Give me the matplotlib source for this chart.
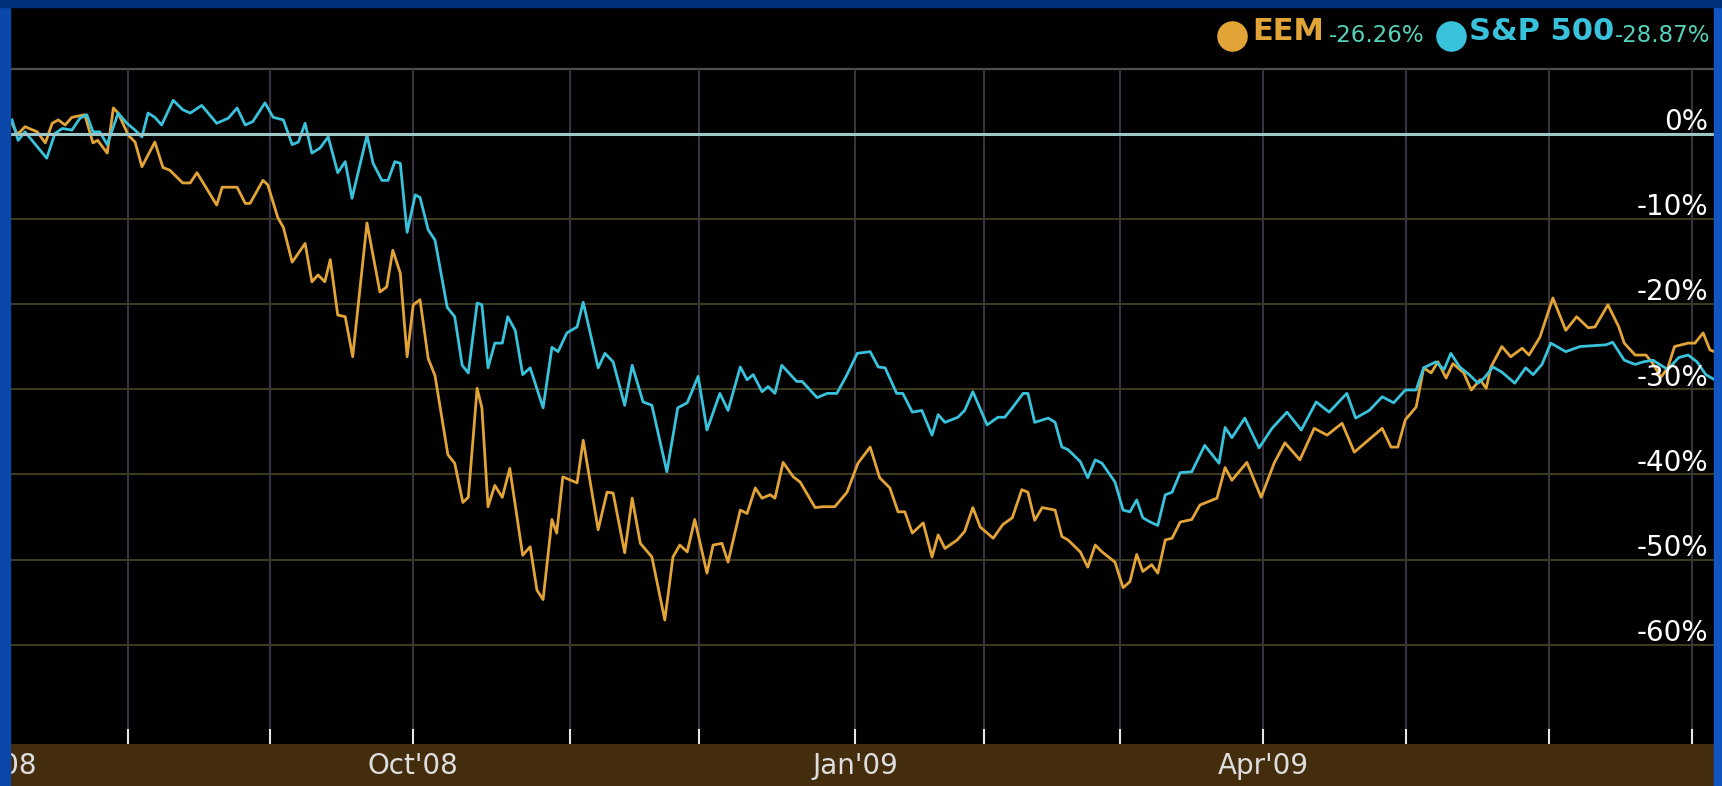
import matplotlib
matplotlib.use("Agg")
import matplotlib.pyplot as plt
import matplotlib.transforms as mtransforms
from matplotlib.lines import Line2D
from matplotlib.patches import Rectangle

# x = trading-day index (0 = first session on the chart, early Jul 2008), y = % change
spx_points = [
    (0, 1.6), (0.9, -0.8), (1.9, 0.2), (5.1, -2.9), (6.3, 0.0), (7.4, 0.6), (8.8, 0.4),
    (10.0, 1.8), (11.0, 2.2), (11.9, 0.2), (12.9, 0.2), (14.0, -1.3), (15.6, 2.4),
    (16.9, 1.2), (18.1, 0.4), (19.1, -0.4), (20.0, 2.4), (21.0, 1.9), (22.0, 1.0),
    (23.7, 3.9), (25.1, 2.8), (26.2, 2.4), (27.9, 3.3), (30.1, 1.2), (31.8, 1.8),
    (33.1, 3.0), (34.3, 1.0), (35.4, 1.4), (37.2, 3.6), (38.4, 1.9), (39.9, 1.6),
    (41.2, -1.3), (42.1, -1.0), (43.1, 1.2), (44.1, -2.3), (45.3, -1.7), (46.5, -0.4),
    (47.9, -4.6), (49.0, -3.3), (50.0, -7.6), (52.2, -0.2), (53.1, -3.5), (54.4, -5.5),
    (55.3, -5.5), (56.3, -3.3), (57.1, -3.5), (58.1, -11.6), (59.3, -7.2), (60.0, -7.5),
    (61.2, -11.3), (62.2, -12.5), (64.0, -20.4), (65.1, -21.5), (66.2, -27.2),
    (67.1, -28.1), (68.4, -19.9), (69.1, -20.1), (70.0, -27.5), (71.0, -24.6),
    (72.1, -24.6), (72.9, -21.5), (74.0, -23.1), (75.1, -28.3), (76.2, -27.5),
    (78.1, -32.2), (79.4, -25.1), (80.3, -25.6), (81.6, -23.4), (83.1, -22.7),
    (84.0, -19.8), (86.2, -27.5), (87.2, -25.8), (88.4, -26.8), (90.1, -31.9),
    (91.2, -27.2), (92.8, -31.5), (94.1, -31.9), (96.3, -39.7), (97.9, -32.2),
    (99.3, -31.6), (100.9, -28.5), (102.2, -34.8), (104.1, -30.5), (105.3, -32.5),
    (107.1, -27.4), (108.1, -28.9), (109.0, -28.3), (110.3, -30.3), (111.2, -29.7),
    (112.2, -30.5), (113.2, -27.2), (115.4, -29.1), (116.2, -29.1), (118.4, -31.0),
    (119.9, -30.5), (121.3, -30.5), (122.8, -28.3), (124.3, -25.8), (126.2, -25.6),
    (127.4, -27.4), (128.4, -27.5), (130.1, -30.5), (131.0, -30.5), (132.4, -32.7),
    (133.8, -32.5), (135.3, -35.4), (136.2, -33.0), (137.2, -33.9), (139.1, -33.3),
    (140.1, -32.5), (141.3, -30.3), (143.4, -34.2), (145.0, -33.3), (146.0, -33.3),
    (147.1, -32.2), (148.7, -30.5), (149.4, -30.5), (150.4, -33.9), (152.4, -33.4),
    (153.4, -33.9), (154.4, -36.8), (155.3, -37.1), (157.1, -38.5), (158.2, -40.4),
    (159.3, -38.3), (160.3, -38.7), (162.2, -40.9), (163.4, -44.2), (164.4, -44.4),
    (165.4, -43.0), (166.3, -45.1), (167.4, -45.6), (168.5, -46.0), (169.6, -42.4),
    (170.6, -42.1), (171.8, -39.8), (173.5, -39.7), (175.4, -36.6), (177.5, -38.7),
    (178.4, -34.5), (179.4, -35.7), (181.3, -33.4), (183.4, -36.9), (185.3, -34.6),
    (187.5, -32.7), (189.6, -34.8), (191.8, -31.5), (193.7, -32.7), (196.3, -30.5),
    (197.6, -33.4), (199.6, -32.5), (201.5, -30.9), (203.2, -31.6), (204.9, -30.1),
    (206.5, -30.1), (207.6, -27.5), (209.4, -26.8), (210.6, -27.7), (211.6, -25.8),
    (212.9, -27.4), (214.3, -28.3), (215.6, -29.3), (216.5, -28.7), (217.8, -27.4),
    (219.1, -28.0), (221.0, -29.3), (222.6, -27.5), (223.7, -28.3), (225.0, -27.1),
    (226.3, -24.6), (228.5, -25.6), (230.6, -25.0), (234.4, -24.8), (235.4, -24.5),
    (237.1, -26.6), (238.7, -27.1), (239.9, -26.8), (241.3, -26.6), (243.5, -27.7),
    (245.1, -26.3), (246.5, -26.0), (247.8, -26.8), (249.1, -28.3), (250.4, -28.9),
]

eem_points = [
    (0, 1.2), (0.7, 0.0), (1.2, 0.2), (1.9, 0.8), (3.7, 0.2), (4.9, -1.1), (5.9, 1.2),
    (6.8, 1.6), (7.8, 1.0), (8.8, 1.9), (10.7, 2.2), (11.9, -1.1), (12.6, -0.8),
    (14.0, -2.3), (14.9, 3.0), (15.6, 2.4), (17.1, -0.2), (18.1, -1.0), (19.1, -3.9),
    (21.0, -1.0), (22.2, -4.0), (23.2, -4.3), (25.1, -5.8), (26.2, -5.8), (27.2, -4.6),
    (30.1, -8.4), (30.9, -6.3), (33.1, -6.3), (34.3, -8.2), (35.0, -8.2), (36.9, -5.5),
    (37.6, -6.0), (39.1, -9.9), (39.9, -11.0), (41.2, -15.1), (43.1, -12.9),
    (44.1, -17.4), (45.0, -16.6), (46.0, -17.4), (46.8, -14.8), (47.9, -21.3),
    (49.0, -21.5), (50.1, -26.2), (52.2, -10.5), (54.1, -18.6), (55.1, -18.0),
    (56.0, -13.7), (57.1, -16.4), (58.1, -26.2), (59.0, -20.1), (60.0, -19.5),
    (61.2, -26.4), (62.2, -28.4), (64.1, -37.7), (65.1, -38.7), (66.3, -43.3),
    (67.1, -42.7), (68.4, -29.9), (69.1, -32.2), (70.0, -43.8), (71.0, -41.3),
    (72.1, -42.7), (73.2, -39.3), (75.1, -49.5), (76.2, -48.5), (77.2, -53.6),
    (78.1, -54.7), (79.4, -45.3), (80.1, -46.9), (81.0, -40.3), (83.1, -41.0),
    (84.0, -36.0), (86.2, -46.5), (87.5, -42.1), (88.4, -42.2), (90.1, -49.2),
    (91.2, -42.8), (92.4, -48.1), (94.1, -49.7), (96.0, -57.1), (97.2, -49.7),
    (98.2, -48.3), (99.3, -49.1), (100.4, -45.3), (102.2, -51.6), (103.1, -48.3),
    (104.4, -48.1), (105.3, -50.3), (107.1, -44.2), (108.1, -44.6), (109.3, -41.6),
    (110.3, -42.8), (111.5, -42.4), (112.2, -42.8), (113.4, -38.6), (114.9, -40.3),
    (115.9, -40.9), (118.1, -43.9), (119.3, -43.8), (121.0, -43.8), (122.8, -42.1),
    (124.4, -38.7), (126.2, -36.8), (127.6, -40.4), (129.1, -41.6), (130.3, -44.4),
    (131.3, -44.4), (132.4, -46.9), (134.0, -45.7), (135.3, -49.7), (136.2, -47.1),
    (137.2, -48.7), (139.0, -47.7), (140.1, -46.7), (141.3, -43.9), (142.4, -46.2),
    (144.3, -47.5), (145.7, -45.9), (147.1, -45.1), (148.5, -41.8), (149.4, -42.1),
    (150.4, -45.4), (151.5, -43.9), (153.4, -44.2), (154.4, -47.3), (155.3, -47.7),
    (157.1, -49.1), (158.2, -50.9), (159.3, -48.3), (160.3, -49.1), (162.2, -50.3),
    (163.4, -53.3), (164.4, -52.6), (165.4, -49.4), (166.3, -51.4), (167.6, -50.6),
    (168.5, -51.6), (169.6, -47.7), (170.6, -47.5), (171.8, -45.6), (173.5, -45.3),
    (174.7, -43.6), (177.2, -42.8), (178.4, -39.2), (179.4, -40.7), (181.6, -38.6),
    (183.7, -42.7), (185.6, -38.7), (187.2, -36.3), (189.4, -38.3), (191.5, -34.6),
    (193.4, -35.4), (195.6, -34.0), (197.4, -37.4), (199.0, -36.3), (201.5, -34.6),
    (202.8, -36.8), (203.8, -36.8), (204.9, -33.6), (206.5, -32.1), (207.6, -27.5),
    (208.7, -28.1), (209.7, -26.8), (210.9, -28.7), (211.9, -27.0), (213.5, -28.1),
    (214.6, -30.1), (215.9, -28.9), (216.8, -29.9), (217.5, -27.4), (219.1, -25.0),
    (220.4, -26.2), (222.1, -25.2), (223.1, -26.0), (224.7, -23.9), (226.6, -19.3),
    (228.5, -23.1), (230.1, -21.5), (231.8, -22.8), (232.8, -22.7), (234.7, -20.1),
    (236.3, -22.7), (237.1, -24.6), (238.7, -26.0), (240.3, -26.0), (241.3, -27.0),
    (242.5, -28.6), (243.5, -27.5), (244.5, -25.0), (246.5, -24.6), (247.5, -24.6),
    (248.7, -23.4), (249.7, -25.4), (251.0, -25.8),
]

# first trading day of each month, Aug'08 .. Jul'09
month_day = [17, 38, 59, 82, 101, 124, 143, 163, 184, 205, 226, 247]
month_label = ["", "", "Oct'08", "", "", "Jan'09", "", "", "Apr'09", "", "", ""]
jul08_day = -2.0   # label of the month that starts before the first point

pct_levels = [0, -10, -20, -30, -40, -50, -60]
pct_labels = ["0%", "-10%", "-20%", "-30%", "-40%", "-50%", "-60%"]
top_level = 7.57

legend_names = ["EEM", "S&P 500"]
legend_changes = ["-26.26%", "-28.87%"]

EEM_COL = "#e2a436"
SPX_COL = "#38c2dc"
CHG_COL = "#55d2bb"
BORDER = "#0a47a8"
TICK_TXT = "#dedede"

W, H = 1722, 786
fig = plt.figure(figsize=(W / 100, H / 100), dpi=100, facecolor=BORDER)
ax = fig.add_axes([10 / W, 42 / H, 1704 / W, 737 / H])
ax.set_facecolor("black")
ax.set_xlim(-0.3, 250.3)
ax.set_ylim(-71.65, 14.85)
for s in ax.spines.values():
    s.set_visible(False)

# grid
ax.axhline(top_level, color="#4e4e4e", lw=1.6, zorder=1)
for lv in pct_levels[1:]:
    ax.axhline(lv, color="#3d3a1e", lw=1.5, zorder=1)
ax.vlines(month_day, -71.65, top_level, color="#3a3341", lw=1.4, zorder=1)

# series
ex, ey = zip(*eem_points)
sx, sy = zip(*spx_points)
ax.plot(ex, ey, color=EEM_COL, lw=2.0, zorder=2, solid_joinstyle="round")
ax.plot(sx, sy, color=SPX_COL, lw=2.0, zorder=2.1, solid_joinstyle="round")
ax.axhline(0, color="#9fc6c7", lw=2.2, zorder=3)

# x ticks
ax.set_xticks(month_day)
ax.set_xticklabels(month_label)
ax.tick_params(axis="x", direction="in", length=11, width=1.5, color="#e6e6e6",
               labelsize=20, labelcolor=TICK_TXT, pad=6)
ax.tick_params(axis="y", left=False, labelleft=False)
ax.annotate("Jul'08", (jul08_day, 0), xycoords=("data", "axes fraction"),
            xytext=(0, -6), textcoords="offset points", ha="center", va="top",
            fontsize=20, color=TICK_TXT, annotation_clip=False)

# right-hand percent labels
lab_tr = mtransforms.blended_transform_factory(ax.transAxes, ax.transData)
for lv, lb in zip(pct_levels, pct_labels):
    ax.annotate(lb, (0.9965, lv), xycoords=lab_tr, xytext=(0, 2.5),
                textcoords="offset points", ha="right", va="baseline",
                fontsize=20, color="white", zorder=4)

# bottom band and borders
fig.add_artist(Rectangle((10 / W, 0), 1704 / W, 42 / H, transform=fig.transFigure,
                         color="#432d0c", zorder=-1))
fig.add_artist(Rectangle((0, 0), 10 / W, 1, transform=fig.transFigure,
                         color=BORDER, zorder=10))
fig.add_artist(Rectangle((1714 / W, 0), 8 / W, 1, transform=fig.transFigure,
                         color="#1156c0", zorder=10))
fig.add_artist(Rectangle((0, 779 / H), 1, 7 / H, transform=fig.transFigure,
                         color="#00307a", zorder=10))

# legend
ly = 1 - 36 / H
for (dot_x, name_x, chg_x), name, chg, col in zip(
        [(1232, 1252, 1329), (1451, 1469, 1615)], legend_names, legend_changes,
        [EEM_COL, SPX_COL]):
    fig.add_artist(Line2D([dot_x / W], [ly], marker="o", ms=21, color=col,
                          transform=fig.transFigure))
    fig.text(name_x / W, 1 - 40 / H, name, fontsize=22, fontweight="bold",
             color=col, ha="left", va="baseline")
    fig.text(chg_x / W, 1 - 42 / H, chg, fontsize=16.5, color=CHG_COL,
             ha="left", va="baseline")

fig.savefig("out.png", dpi=100, facecolor=fig.get_facecolor())
